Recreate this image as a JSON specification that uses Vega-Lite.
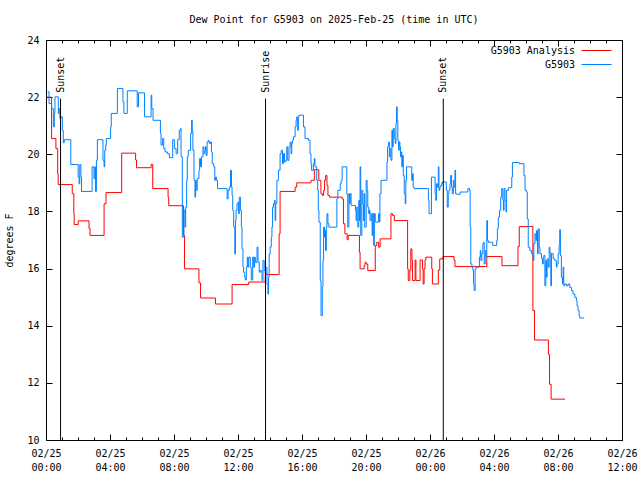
{
  "$schema": "https://vega.github.io/schema/vega-lite/v6.json",
  "width": 576,
  "height": 400,
  "autosize": {"type": "none"},
  "padding": {"left": 46, "top": 40, "right": 18, "bottom": 40},
  "title": {"text": "Dew Point for G5903 on 2025-Feb-25 (time in UTC)", "font": "DejaVu Sans Mono", "fontSize": 10, "fontWeight": "normal", "color": "black", "offset": 10},
  "config": {
    "font": "DejaVu Sans Mono",
    "view": {"stroke": "black", "strokeWidth": 1},
    "axis": {"grid": false, "domain": false, "labelFont": "DejaVu Sans Mono", "labelFontSize": 10, "labelColor": "black", "tickColor": "black", "tickWidth": 1, "titleFont": "DejaVu Sans Mono", "titleFontSize": 10, "titleFontWeight": "normal", "titleColor": "black"},
    "legend": {"orient": "none", "legendX": 545, "legendY": 5, "labelFont": "DejaVu Sans Mono", "labelFontSize": 10, "labelColor": "black", "symbolType": "M-3,0H3", "symbolSize": 100, "symbolStrokeWidth": 1, "labelAlign": "right", "labelOffset": -27, "rowPadding": 3, "padding": 0}
  },
  "datasets": {
    "sun": [
      {"hour": 0.91, "event": "Sunset"},
      {"hour": 13.72, "event": "Sunrise"},
      {"hour": 24.83, "event": "Sunset"}
    ],
    "dew": [
      {"hour":0.05,"dewpoint":22.0,"series":"G5903 Analysis"},
      {"hour":0.35,"dewpoint":20.55,"series":"G5903 Analysis"},
      {"hour":0.62,"dewpoint":20.2,"series":"G5903 Analysis"},
      {"hour":0.73,"dewpoint":19.32,"series":"G5903 Analysis"},
      {"hour":0.76,"dewpoint":18.94,"series":"G5903 Analysis"},
      {"hour":1.64,"dewpoint":18.62,"series":"G5903 Analysis"},
      {"hour":1.74,"dewpoint":17.92,"series":"G5903 Analysis"},
      {"hour":1.76,"dewpoint":17.54,"series":"G5903 Analysis"},
      {"hour":2.01,"dewpoint":17.67,"series":"G5903 Analysis"},
      {"hour":2.69,"dewpoint":17.4,"series":"G5903 Analysis"},
      {"hour":2.75,"dewpoint":17.16,"series":"G5903 Analysis"},
      {"hour":3.63,"dewpoint":18.27,"series":"G5903 Analysis"},
      {"hour":3.75,"dewpoint":18.66,"series":"G5903 Analysis"},
      {"hour":4.73,"dewpoint":20.04,"series":"G5903 Analysis"},
      {"hour":5.6,"dewpoint":19.8,"series":"G5903 Analysis"},
      {"hour":5.66,"dewpoint":19.53,"series":"G5903 Analysis"},
      {"hour":6.57,"dewpoint":19.65,"series":"G5903 Analysis"},
      {"hour":6.67,"dewpoint":18.8,"series":"G5903 Analysis"},
      {"hour":7.63,"dewpoint":18.5,"series":"G5903 Analysis"},
      {"hour":7.67,"dewpoint":18.2,"series":"G5903 Analysis"},
      {"hour":8.6,"dewpoint":17.16,"series":"G5903 Analysis"},
      {"hour":8.66,"dewpoint":15.99,"series":"G5903 Analysis"},
      {"hour":9.56,"dewpoint":15.5,"series":"G5903 Analysis"},
      {"hour":9.66,"dewpoint":14.97,"series":"G5903 Analysis"},
      {"hour":10.59,"dewpoint":14.76,"series":"G5903 Analysis"},
      {"hour":11.63,"dewpoint":15.44,"series":"G5903 Analysis"},
      {"hour":12.67,"dewpoint":15.53,"series":"G5903 Analysis"},
      {"hour":13.7,"dewpoint":15.79,"series":"G5903 Analysis"},
      {"hour":14.57,"dewpoint":17.22,"series":"G5903 Analysis"},
      {"hour":14.63,"dewpoint":18.7,"series":"G5903 Analysis"},
      {"hour":15.57,"dewpoint":18.85,"series":"G5903 Analysis"},
      {"hour":15.67,"dewpoint":19.0,"series":"G5903 Analysis"},
      {"hour":16.56,"dewpoint":19.09,"series":"G5903 Analysis"},
      {"hour":16.77,"dewpoint":19.46,"series":"G5903 Analysis"},
      {"hour":17.05,"dewpoint":19.09,"series":"G5903 Analysis"},
      {"hour":17.18,"dewpoint":18.62,"series":"G5903 Analysis"},
      {"hour":17.27,"dewpoint":18.56,"series":"G5903 Analysis"},
      {"hour":17.35,"dewpoint":18.74,"series":"G5903 Analysis"},
      {"hour":17.41,"dewpoint":19.09,"series":"G5903 Analysis"},
      {"hour":17.48,"dewpoint":19.26,"series":"G5903 Analysis"},
      {"hour":17.56,"dewpoint":18.91,"series":"G5903 Analysis"},
      {"hour":17.62,"dewpoint":18.56,"series":"G5903 Analysis"},
      {"hour":17.72,"dewpoint":18.5,"series":"G5903 Analysis"},
      {"hour":18.51,"dewpoint":18.44,"series":"G5903 Analysis"},
      {"hour":18.59,"dewpoint":17.57,"series":"G5903 Analysis"},
      {"hour":18.68,"dewpoint":17.22,"series":"G5903 Analysis"},
      {"hour":18.82,"dewpoint":17.01,"series":"G5903 Analysis"},
      {"hour":18.89,"dewpoint":17.16,"series":"G5903 Analysis"},
      {"hour":19.59,"dewpoint":16.57,"series":"G5903 Analysis"},
      {"hour":19.63,"dewpoint":15.99,"series":"G5903 Analysis"},
      {"hour":19.88,"dewpoint":16.1,"series":"G5903 Analysis"},
      {"hour":19.94,"dewpoint":16.22,"series":"G5903 Analysis"},
      {"hour":20.01,"dewpoint":16.16,"series":"G5903 Analysis"},
      {"hour":20.11,"dewpoint":15.93,"series":"G5903 Analysis"},
      {"hour":20.58,"dewpoint":16.81,"series":"G5903 Analysis"},
      {"hour":20.67,"dewpoint":16.92,"series":"G5903 Analysis"},
      {"hour":20.79,"dewpoint":16.75,"series":"G5903 Analysis"},
      {"hour":20.88,"dewpoint":17.04,"series":"G5903 Analysis"},
      {"hour":21.56,"dewpoint":17.92,"series":"G5903 Analysis"},
      {"hour":21.66,"dewpoint":17.86,"series":"G5903 Analysis"},
      {"hour":21.77,"dewpoint":17.68,"series":"G5903 Analysis"},
      {"hour":22.6,"dewpoint":15.99,"series":"G5903 Analysis"},
      {"hour":22.64,"dewpoint":15.58,"series":"G5903 Analysis"},
      {"hour":22.74,"dewpoint":15.95,"series":"G5903 Analysis"},
      {"hour":22.8,"dewpoint":16.69,"series":"G5903 Analysis"},
      {"hour":22.87,"dewpoint":16.3,"series":"G5903 Analysis"},
      {"hour":22.9,"dewpoint":15.58,"series":"G5903 Analysis"},
      {"hour":23.07,"dewpoint":16.3,"series":"G5903 Analysis"},
      {"hour":23.12,"dewpoint":15.58,"series":"G5903 Analysis"},
      {"hour":23.38,"dewpoint":16.3,"series":"G5903 Analysis"},
      {"hour":23.53,"dewpoint":15.99,"series":"G5903 Analysis"},
      {"hour":23.57,"dewpoint":15.46,"series":"G5903 Analysis"},
      {"hour":23.63,"dewpoint":15.99,"series":"G5903 Analysis"},
      {"hour":23.69,"dewpoint":16.3,"series":"G5903 Analysis"},
      {"hour":23.74,"dewpoint":16.4,"series":"G5903 Analysis"},
      {"hour":24.11,"dewpoint":15.99,"series":"G5903 Analysis"},
      {"hour":24.15,"dewpoint":15.46,"series":"G5903 Analysis"},
      {"hour":24.52,"dewpoint":15.95,"series":"G5903 Analysis"},
      {"hour":24.61,"dewpoint":16.34,"series":"G5903 Analysis"},
      {"hour":24.81,"dewpoint":16.42,"series":"G5903 Analysis"},
      {"hour":25.5,"dewpoint":16.3,"series":"G5903 Analysis"},
      {"hour":25.56,"dewpoint":16.07,"series":"G5903 Analysis"},
      {"hour":27.55,"dewpoint":16.42,"series":"G5903 Analysis"},
      {"hour":28.5,"dewpoint":16.1,"series":"G5903 Analysis"},
      {"hour":29.5,"dewpoint":16.77,"series":"G5903 Analysis"},
      {"hour":29.58,"dewpoint":17.47,"series":"G5903 Analysis"},
      {"hour":30.43,"dewpoint":14.53,"series":"G5903 Analysis"},
      {"hour":30.53,"dewpoint":13.5,"series":"G5903 Analysis"},
      {"hour":31.4,"dewpoint":13.0,"series":"G5903 Analysis"},
      {"hour":31.47,"dewpoint":11.95,"series":"G5903 Analysis"},
      {"hour":31.57,"dewpoint":11.43,"series":"G5903 Analysis"},
      {"hour":32.44,"dewpoint":11.43,"series":"G5903 Analysis"},
      {"hour":0.1,"dewpoint":22.19,"series":"G5903"},
      {"hour":0.19,"dewpoint":21.78,"series":"G5903"},
      {"hour":0.35,"dewpoint":21.6,"series":"G5903"},
      {"hour":0.46,"dewpoint":20.96,"series":"G5903"},
      {"hour":0.52,"dewpoint":21.43,"series":"G5903"},
      {"hour":0.56,"dewpoint":22.01,"series":"G5903"},
      {"hour":0.77,"dewpoint":21.43,"series":"G5903"},
      {"hour":0.81,"dewpoint":21.6,"series":"G5903"},
      {"hour":0.87,"dewpoint":21.25,"series":"G5903"},
      {"hour":0.93,"dewpoint":21.31,"series":"G5903"},
      {"hour":1.02,"dewpoint":20.84,"series":"G5903"},
      {"hour":1.08,"dewpoint":20.4,"series":"G5903"},
      {"hour":1.14,"dewpoint":20.51,"series":"G5903"},
      {"hour":1.55,"dewpoint":19.64,"series":"G5903"},
      {"hour":2.01,"dewpoint":19.2,"series":"G5903"},
      {"hour":2.07,"dewpoint":18.97,"series":"G5903"},
      {"hour":2.11,"dewpoint":19.64,"series":"G5903"},
      {"hour":2.18,"dewpoint":19.2,"series":"G5903"},
      {"hour":2.22,"dewpoint":18.7,"series":"G5903"},
      {"hour":2.88,"dewpoint":19.56,"series":"G5903"},
      {"hour":3.0,"dewpoint":19.15,"series":"G5903"},
      {"hour":3.05,"dewpoint":19.56,"series":"G5903"},
      {"hour":3.09,"dewpoint":18.7,"series":"G5903"},
      {"hour":3.15,"dewpoint":19.79,"series":"G5903"},
      {"hour":3.21,"dewpoint":20.51,"series":"G5903"},
      {"hour":3.56,"dewpoint":19.79,"series":"G5903"},
      {"hour":3.63,"dewpoint":19.56,"series":"G5903"},
      {"hour":3.67,"dewpoint":20.14,"series":"G5903"},
      {"hour":3.73,"dewpoint":20.32,"series":"G5903"},
      {"hour":3.77,"dewpoint":20.55,"series":"G5903"},
      {"hour":4.04,"dewpoint":20.96,"series":"G5903"},
      {"hour":4.08,"dewpoint":21.43,"series":"G5903"},
      {"hour":4.46,"dewpoint":22.3,"series":"G5903"},
      {"hour":4.81,"dewpoint":21.84,"series":"G5903"},
      {"hour":4.87,"dewpoint":21.43,"series":"G5903"},
      {"hour":5.08,"dewpoint":22.22,"series":"G5903"},
      {"hour":5.7,"dewpoint":21.66,"series":"G5903"},
      {"hour":5.78,"dewpoint":22.15,"series":"G5903"},
      {"hour":6.16,"dewpoint":21.31,"series":"G5903"},
      {"hour":6.57,"dewpoint":22.07,"series":"G5903"},
      {"hour":6.61,"dewpoint":21.6,"series":"G5903"},
      {"hour":6.69,"dewpoint":21.19,"series":"G5903"},
      {"hour":7.15,"dewpoint":20.73,"series":"G5903"},
      {"hour":7.19,"dewpoint":20.32,"series":"G5903"},
      {"hour":7.29,"dewpoint":20.55,"series":"G5903"},
      {"hour":7.36,"dewpoint":20.2,"series":"G5903"},
      {"hour":7.44,"dewpoint":20.08,"series":"G5903"},
      {"hour":7.6,"dewpoint":20.02,"series":"G5903"},
      {"hour":7.71,"dewpoint":19.88,"series":"G5903"},
      {"hour":7.92,"dewpoint":20.51,"series":"G5903"},
      {"hour":8.02,"dewpoint":20.2,"series":"G5903"},
      {"hour":8.13,"dewpoint":20.02,"series":"G5903"},
      {"hour":8.23,"dewpoint":20.51,"series":"G5903"},
      {"hour":8.33,"dewpoint":20.84,"series":"G5903"},
      {"hour":8.4,"dewpoint":20.9,"series":"G5903"},
      {"hour":8.44,"dewpoint":19.91,"series":"G5903"},
      {"hour":8.52,"dewpoint":17.1,"series":"G5903"},
      {"hour":8.62,"dewpoint":18.04,"series":"G5903"},
      {"hour":8.69,"dewpoint":17.45,"series":"G5903"},
      {"hour":8.73,"dewpoint":18.15,"series":"G5903"},
      {"hour":8.79,"dewpoint":19.09,"series":"G5903"},
      {"hour":8.83,"dewpoint":19.91,"series":"G5903"},
      {"hour":8.89,"dewpoint":20.14,"series":"G5903"},
      {"hour":9.04,"dewpoint":20.73,"series":"G5903"},
      {"hour":9.1,"dewpoint":21.19,"series":"G5903"},
      {"hour":9.14,"dewpoint":20.84,"series":"G5903"},
      {"hour":9.18,"dewpoint":20.14,"series":"G5903"},
      {"hour":9.25,"dewpoint":19.09,"series":"G5903"},
      {"hour":9.31,"dewpoint":18.5,"series":"G5903"},
      {"hour":9.35,"dewpoint":19.09,"series":"G5903"},
      {"hour":9.39,"dewpoint":18.74,"series":"G5903"},
      {"hour":9.45,"dewpoint":19.15,"series":"G5903"},
      {"hour":9.56,"dewpoint":19.44,"series":"G5903"},
      {"hour":9.6,"dewpoint":19.85,"series":"G5903"},
      {"hour":9.66,"dewpoint":19.56,"series":"G5903"},
      {"hour":9.72,"dewpoint":19.91,"series":"G5903"},
      {"hour":9.81,"dewpoint":20.26,"series":"G5903"},
      {"hour":9.87,"dewpoint":20.02,"series":"G5903"},
      {"hour":9.93,"dewpoint":20.14,"series":"G5903"},
      {"hour":9.97,"dewpoint":20.26,"series":"G5903"},
      {"hour":10.01,"dewpoint":19.96,"series":"G5903"},
      {"hour":10.07,"dewpoint":20.43,"series":"G5903"},
      {"hour":10.14,"dewpoint":20.49,"series":"G5903"},
      {"hour":10.18,"dewpoint":20.43,"series":"G5903"},
      {"hour":10.22,"dewpoint":20.38,"series":"G5903"},
      {"hour":10.28,"dewpoint":20.43,"series":"G5903"},
      {"hour":10.34,"dewpoint":20.08,"series":"G5903"},
      {"hour":10.39,"dewpoint":19.67,"series":"G5903"},
      {"hour":10.49,"dewpoint":19.56,"series":"G5903"},
      {"hour":10.55,"dewpoint":19.09,"series":"G5903"},
      {"hour":10.59,"dewpoint":19.2,"series":"G5903"},
      {"hour":10.66,"dewpoint":19.09,"series":"G5903"},
      {"hour":10.72,"dewpoint":18.8,"series":"G5903"},
      {"hour":11.32,"dewpoint":18.44,"series":"G5903"},
      {"hour":11.38,"dewpoint":18.74,"series":"G5903"},
      {"hour":11.46,"dewpoint":18.85,"series":"G5903"},
      {"hour":11.53,"dewpoint":19.44,"series":"G5903"},
      {"hour":11.59,"dewpoint":18.85,"series":"G5903"},
      {"hour":11.63,"dewpoint":18.56,"series":"G5903"},
      {"hour":11.67,"dewpoint":18.04,"series":"G5903"},
      {"hour":11.73,"dewpoint":17.45,"series":"G5903"},
      {"hour":11.8,"dewpoint":16.51,"series":"G5903"},
      {"hour":11.84,"dewpoint":17.68,"series":"G5903"},
      {"hour":11.88,"dewpoint":18.04,"series":"G5903"},
      {"hour":11.94,"dewpoint":18.27,"series":"G5903"},
      {"hour":12.0,"dewpoint":18.33,"series":"G5903"},
      {"hour":12.04,"dewpoint":17.92,"series":"G5903"},
      {"hour":12.08,"dewpoint":18.5,"series":"G5903"},
      {"hour":12.15,"dewpoint":18.04,"series":"G5903"},
      {"hour":12.21,"dewpoint":17.45,"series":"G5903"},
      {"hour":12.25,"dewpoint":16.69,"series":"G5903"},
      {"hour":12.31,"dewpoint":16.05,"series":"G5903"},
      {"hour":12.35,"dewpoint":15.87,"series":"G5903"},
      {"hour":12.42,"dewpoint":15.7,"series":"G5903"},
      {"hour":12.46,"dewpoint":15.6,"series":"G5903"},
      {"hour":12.52,"dewpoint":16.05,"series":"G5903"},
      {"hour":12.58,"dewpoint":16.4,"series":"G5903"},
      {"hour":12.62,"dewpoint":16.05,"series":"G5903"},
      {"hour":12.67,"dewpoint":16.4,"series":"G5903"},
      {"hour":12.77,"dewpoint":16.05,"series":"G5903"},
      {"hour":12.83,"dewpoint":15.6,"series":"G5903"},
      {"hour":12.92,"dewpoint":16.4,"series":"G5903"},
      {"hour":12.98,"dewpoint":16.05,"series":"G5903"},
      {"hour":13.04,"dewpoint":16.4,"series":"G5903"},
      {"hour":13.08,"dewpoint":16.22,"series":"G5903"},
      {"hour":13.19,"dewpoint":16.75,"series":"G5903"},
      {"hour":13.25,"dewpoint":16.22,"series":"G5903"},
      {"hour":13.33,"dewpoint":15.87,"series":"G5903"},
      {"hour":13.39,"dewpoint":15.93,"series":"G5903"},
      {"hour":13.5,"dewpoint":15.58,"series":"G5903"},
      {"hour":13.56,"dewpoint":16.28,"series":"G5903"},
      {"hour":13.64,"dewpoint":15.93,"series":"G5903"},
      {"hour":13.7,"dewpoint":15.81,"series":"G5903"},
      {"hour":13.74,"dewpoint":16.05,"series":"G5903"},
      {"hour":13.81,"dewpoint":15.46,"series":"G5903"},
      {"hour":13.87,"dewpoint":15.11,"series":"G5903"},
      {"hour":13.91,"dewpoint":15.7,"series":"G5903"},
      {"hour":13.95,"dewpoint":16.51,"series":"G5903"},
      {"hour":14.01,"dewpoint":16.75,"series":"G5903"},
      {"hour":14.08,"dewpoint":17.1,"series":"G5903"},
      {"hour":14.12,"dewpoint":17.45,"series":"G5903"},
      {"hour":14.16,"dewpoint":18.15,"series":"G5903"},
      {"hour":14.22,"dewpoint":18.27,"series":"G5903"},
      {"hour":14.28,"dewpoint":18.39,"series":"G5903"},
      {"hour":14.32,"dewpoint":17.68,"series":"G5903"},
      {"hour":14.36,"dewpoint":18.27,"series":"G5903"},
      {"hour":14.43,"dewpoint":19.09,"series":"G5903"},
      {"hour":14.53,"dewpoint":19.44,"series":"G5903"},
      {"hour":14.63,"dewpoint":20.02,"series":"G5903"},
      {"hour":14.7,"dewpoint":20.14,"series":"G5903"},
      {"hour":14.78,"dewpoint":19.67,"series":"G5903"},
      {"hour":14.84,"dewpoint":20.02,"series":"G5903"},
      {"hour":14.91,"dewpoint":19.73,"series":"G5903"},
      {"hour":14.99,"dewpoint":19.79,"series":"G5903"},
      {"hour":15.05,"dewpoint":20.26,"series":"G5903"},
      {"hour":15.11,"dewpoint":19.79,"series":"G5903"},
      {"hour":15.19,"dewpoint":20.26,"series":"G5903"},
      {"hour":15.26,"dewpoint":20.43,"series":"G5903"},
      {"hour":15.32,"dewpoint":20.02,"series":"G5903"},
      {"hour":15.36,"dewpoint":20.38,"series":"G5903"},
      {"hour":15.4,"dewpoint":20.49,"series":"G5903"},
      {"hour":15.46,"dewpoint":20.61,"series":"G5903"},
      {"hour":15.57,"dewpoint":20.96,"series":"G5903"},
      {"hour":15.63,"dewpoint":21.19,"series":"G5903"},
      {"hour":15.67,"dewpoint":21.31,"series":"G5903"},
      {"hour":15.73,"dewpoint":20.84,"series":"G5903"},
      {"hour":15.77,"dewpoint":21.31,"series":"G5903"},
      {"hour":15.81,"dewpoint":21.37,"series":"G5903"},
      {"hour":16.09,"dewpoint":20.96,"series":"G5903"},
      {"hour":16.19,"dewpoint":20.55,"series":"G5903"},
      {"hour":16.4,"dewpoint":20.49,"series":"G5903"},
      {"hour":16.5,"dewpoint":20.02,"series":"G5903"},
      {"hour":16.56,"dewpoint":19.67,"series":"G5903"},
      {"hour":16.6,"dewpoint":19.44,"series":"G5903"},
      {"hour":16.71,"dewpoint":19.67,"series":"G5903"},
      {"hour":16.77,"dewpoint":19.85,"series":"G5903"},
      {"hour":16.81,"dewpoint":19.56,"series":"G5903"},
      {"hour":16.92,"dewpoint":19.09,"series":"G5903"},
      {"hour":16.98,"dewpoint":18.74,"series":"G5903"},
      {"hour":17.02,"dewpoint":18.04,"series":"G5903"},
      {"hour":17.06,"dewpoint":17.62,"series":"G5903"},
      {"hour":17.14,"dewpoint":15.58,"series":"G5903"},
      {"hour":17.19,"dewpoint":14.35,"series":"G5903"},
      {"hour":17.27,"dewpoint":15.35,"series":"G5903"},
      {"hour":17.31,"dewpoint":16.29,"series":"G5903"},
      {"hour":17.35,"dewpoint":17.45,"series":"G5903"},
      {"hour":17.41,"dewpoint":17.1,"series":"G5903"},
      {"hour":17.45,"dewpoint":17.33,"series":"G5903"},
      {"hour":17.47,"dewpoint":16.63,"series":"G5903"},
      {"hour":17.52,"dewpoint":17.45,"series":"G5903"},
      {"hour":17.56,"dewpoint":17.92,"series":"G5903"},
      {"hour":17.62,"dewpoint":17.57,"series":"G5903"},
      {"hour":17.68,"dewpoint":17.45,"series":"G5903"},
      {"hour":18.18,"dewpoint":18.44,"series":"G5903"},
      {"hour":18.24,"dewpoint":18.74,"series":"G5903"},
      {"hour":18.39,"dewpoint":18.97,"series":"G5903"},
      {"hour":18.45,"dewpoint":19.09,"series":"G5903"},
      {"hour":18.51,"dewpoint":19.56,"series":"G5903"},
      {"hour":18.8,"dewpoint":18.62,"series":"G5903"},
      {"hour":18.86,"dewpoint":17.45,"series":"G5903"},
      {"hour":18.93,"dewpoint":18.62,"series":"G5903"},
      {"hour":18.97,"dewpoint":18.27,"series":"G5903"},
      {"hour":19.01,"dewpoint":18.62,"series":"G5903"},
      {"hour":19.07,"dewpoint":18.21,"series":"G5903"},
      {"hour":19.34,"dewpoint":18.04,"series":"G5903"},
      {"hour":19.38,"dewpoint":17.68,"series":"G5903"},
      {"hour":19.42,"dewpoint":18.15,"series":"G5903"},
      {"hour":19.49,"dewpoint":17.45,"series":"G5903"},
      {"hour":19.55,"dewpoint":18.39,"series":"G5903"},
      {"hour":19.59,"dewpoint":17.68,"series":"G5903"},
      {"hour":19.63,"dewpoint":19.56,"series":"G5903"},
      {"hour":19.67,"dewpoint":17.16,"series":"G5903"},
      {"hour":19.74,"dewpoint":18.74,"series":"G5903"},
      {"hour":19.8,"dewpoint":18.27,"series":"G5903"},
      {"hour":19.84,"dewpoint":17.68,"series":"G5903"},
      {"hour":19.88,"dewpoint":18.62,"series":"G5903"},
      {"hour":19.92,"dewpoint":17.45,"series":"G5903"},
      {"hour":20.01,"dewpoint":19.09,"series":"G5903"},
      {"hour":20.07,"dewpoint":18.74,"series":"G5903"},
      {"hour":20.11,"dewpoint":18.15,"series":"G5903"},
      {"hour":20.17,"dewpoint":17.92,"series":"G5903"},
      {"hour":20.21,"dewpoint":18.04,"series":"G5903"},
      {"hour":20.25,"dewpoint":17.68,"series":"G5903"},
      {"hour":20.32,"dewpoint":17.92,"series":"G5903"},
      {"hour":20.38,"dewpoint":17.16,"series":"G5903"},
      {"hour":20.42,"dewpoint":17.92,"series":"G5903"},
      {"hour":20.48,"dewpoint":16.81,"series":"G5903"},
      {"hour":20.52,"dewpoint":17.92,"series":"G5903"},
      {"hour":20.58,"dewpoint":17.63,"series":"G5903"},
      {"hour":20.79,"dewpoint":17.92,"series":"G5903"},
      {"hour":20.83,"dewpoint":17.63,"series":"G5903"},
      {"hour":20.87,"dewpoint":18.62,"series":"G5903"},
      {"hour":20.94,"dewpoint":19.09,"series":"G5903"},
      {"hour":21.31,"dewpoint":19.73,"series":"G5903"},
      {"hour":21.35,"dewpoint":20.26,"series":"G5903"},
      {"hour":21.42,"dewpoint":20.43,"series":"G5903"},
      {"hour":21.46,"dewpoint":19.91,"series":"G5903"},
      {"hour":21.5,"dewpoint":20.2,"series":"G5903"},
      {"hour":21.56,"dewpoint":19.79,"series":"G5903"},
      {"hour":21.62,"dewpoint":20.84,"series":"G5903"},
      {"hour":21.66,"dewpoint":20.26,"series":"G5903"},
      {"hour":21.7,"dewpoint":20.9,"series":"G5903"},
      {"hour":21.77,"dewpoint":20.55,"series":"G5903"},
      {"hour":21.83,"dewpoint":20.38,"series":"G5903"},
      {"hour":21.87,"dewpoint":21.08,"series":"G5903"},
      {"hour":21.91,"dewpoint":21.66,"series":"G5903"},
      {"hour":21.95,"dewpoint":21.19,"series":"G5903"},
      {"hour":21.99,"dewpoint":20.49,"series":"G5903"},
      {"hour":22.04,"dewpoint":20.14,"series":"G5903"},
      {"hour":22.08,"dewpoint":20.43,"series":"G5903"},
      {"hour":22.12,"dewpoint":20.26,"series":"G5903"},
      {"hour":22.16,"dewpoint":19.91,"series":"G5903"},
      {"hour":22.2,"dewpoint":20.08,"series":"G5903"},
      {"hour":22.24,"dewpoint":19.56,"series":"G5903"},
      {"hour":22.28,"dewpoint":19.96,"series":"G5903"},
      {"hour":22.33,"dewpoint":19.26,"series":"G5903"},
      {"hour":22.39,"dewpoint":18.62,"series":"G5903"},
      {"hour":22.45,"dewpoint":18.27,"series":"G5903"},
      {"hour":22.49,"dewpoint":19.09,"series":"G5903"},
      {"hour":22.53,"dewpoint":19.56,"series":"G5903"},
      {"hour":22.86,"dewpoint":19.09,"series":"G5903"},
      {"hour":22.91,"dewpoint":19.32,"series":"G5903"},
      {"hour":22.95,"dewpoint":18.85,"series":"G5903"},
      {"hour":23.01,"dewpoint":18.8,"series":"G5903"},
      {"hour":23.9,"dewpoint":18.39,"series":"G5903"},
      {"hour":23.94,"dewpoint":17.92,"series":"G5903"},
      {"hour":24.09,"dewpoint":19.2,"series":"G5903"},
      {"hour":24.32,"dewpoint":18.62,"series":"G5903"},
      {"hour":24.36,"dewpoint":18.39,"series":"G5903"},
      {"hour":24.4,"dewpoint":18.97,"series":"G5903"},
      {"hour":24.46,"dewpoint":18.85,"series":"G5903"},
      {"hour":24.52,"dewpoint":19.56,"series":"G5903"},
      {"hour":24.56,"dewpoint":18.74,"series":"G5903"},
      {"hour":24.61,"dewpoint":18.85,"series":"G5903"},
      {"hour":24.67,"dewpoint":18.91,"series":"G5903"},
      {"hour":24.73,"dewpoint":18.97,"series":"G5903"},
      {"hour":24.77,"dewpoint":19.03,"series":"G5903"},
      {"hour":25.02,"dewpoint":18.74,"series":"G5903"},
      {"hour":25.08,"dewpoint":18.15,"series":"G5903"},
      {"hour":25.14,"dewpoint":18.62,"series":"G5903"},
      {"hour":25.18,"dewpoint":18.74,"series":"G5903"},
      {"hour":25.25,"dewpoint":18.97,"series":"G5903"},
      {"hour":25.29,"dewpoint":19.26,"series":"G5903"},
      {"hour":25.35,"dewpoint":18.85,"series":"G5903"},
      {"hour":25.39,"dewpoint":18.62,"series":"G5903"},
      {"hour":25.46,"dewpoint":19.09,"series":"G5903"},
      {"hour":25.5,"dewpoint":18.85,"series":"G5903"},
      {"hour":25.56,"dewpoint":19.44,"series":"G5903"},
      {"hour":25.6,"dewpoint":18.62,"series":"G5903"},
      {"hour":25.68,"dewpoint":18.6,"series":"G5903"},
      {"hour":25.89,"dewpoint":18.68,"series":"G5903"},
      {"hour":26.37,"dewpoint":18.8,"series":"G5903"},
      {"hour":26.47,"dewpoint":18.74,"series":"G5903"},
      {"hour":26.51,"dewpoint":17.45,"series":"G5903"},
      {"hour":26.55,"dewpoint":16.16,"series":"G5903"},
      {"hour":26.62,"dewpoint":16.05,"series":"G5903"},
      {"hour":26.68,"dewpoint":15.93,"series":"G5903"},
      {"hour":26.72,"dewpoint":15.46,"series":"G5903"},
      {"hour":26.76,"dewpoint":15.23,"series":"G5903"},
      {"hour":26.82,"dewpoint":15.99,"series":"G5903"},
      {"hour":26.89,"dewpoint":16.05,"series":"G5903"},
      {"hour":27.09,"dewpoint":16.4,"series":"G5903"},
      {"hour":27.14,"dewpoint":16.63,"series":"G5903"},
      {"hour":27.18,"dewpoint":16.28,"series":"G5903"},
      {"hour":27.24,"dewpoint":16.52,"series":"G5903"},
      {"hour":27.3,"dewpoint":16.87,"series":"G5903"},
      {"hour":27.34,"dewpoint":16.92,"series":"G5903"},
      {"hour":27.39,"dewpoint":16.16,"series":"G5903"},
      {"hour":27.45,"dewpoint":16.63,"series":"G5903"},
      {"hour":27.51,"dewpoint":16.4,"series":"G5903"},
      {"hour":27.55,"dewpoint":17.68,"series":"G5903"},
      {"hour":27.59,"dewpoint":16.98,"series":"G5903"},
      {"hour":27.65,"dewpoint":16.92,"series":"G5903"},
      {"hour":27.92,"dewpoint":16.81,"series":"G5903"},
      {"hour":28.17,"dewpoint":16.98,"series":"G5903"},
      {"hour":28.21,"dewpoint":17.39,"series":"G5903"},
      {"hour":28.27,"dewpoint":17.8,"series":"G5903"},
      {"hour":28.34,"dewpoint":18.04,"series":"G5903"},
      {"hour":28.42,"dewpoint":18.5,"series":"G5903"},
      {"hour":28.48,"dewpoint":18.8,"series":"G5903"},
      {"hour":28.55,"dewpoint":18.39,"series":"G5903"},
      {"hour":28.59,"dewpoint":18.04,"series":"G5903"},
      {"hour":28.63,"dewpoint":18.8,"series":"G5903"},
      {"hour":28.69,"dewpoint":18.39,"series":"G5903"},
      {"hour":28.75,"dewpoint":17.98,"series":"G5903"},
      {"hour":28.79,"dewpoint":18.74,"series":"G5903"},
      {"hour":28.9,"dewpoint":18.83,"series":"G5903"},
      {"hour":29.11,"dewpoint":19.2,"series":"G5903"},
      {"hour":29.15,"dewpoint":19.71,"series":"G5903"},
      {"hour":29.58,"dewpoint":19.67,"series":"G5903"},
      {"hour":29.87,"dewpoint":19.26,"series":"G5903"},
      {"hour":29.94,"dewpoint":18.74,"series":"G5903"},
      {"hour":30.04,"dewpoint":18.68,"series":"G5903"},
      {"hour":30.08,"dewpoint":17.74,"series":"G5903"},
      {"hour":30.14,"dewpoint":16.75,"series":"G5903"},
      {"hour":30.24,"dewpoint":16.63,"series":"G5903"},
      {"hour":30.35,"dewpoint":16.52,"series":"G5903"},
      {"hour":30.41,"dewpoint":16.46,"series":"G5903"},
      {"hour":30.45,"dewpoint":16.28,"series":"G5903"},
      {"hour":30.49,"dewpoint":16.87,"series":"G5903"},
      {"hour":30.56,"dewpoint":17.22,"series":"G5903"},
      {"hour":30.62,"dewpoint":16.98,"series":"G5903"},
      {"hour":30.66,"dewpoint":17.33,"series":"G5903"},
      {"hour":30.72,"dewpoint":16.52,"series":"G5903"},
      {"hour":30.76,"dewpoint":17.39,"series":"G5903"},
      {"hour":30.83,"dewpoint":16.75,"series":"G5903"},
      {"hour":30.87,"dewpoint":16.52,"series":"G5903"},
      {"hour":30.97,"dewpoint":16.34,"series":"G5903"},
      {"hour":31.03,"dewpoint":16.16,"series":"G5903"},
      {"hour":31.08,"dewpoint":16.4,"series":"G5903"},
      {"hour":31.12,"dewpoint":16.46,"series":"G5903"},
      {"hour":31.18,"dewpoint":15.4,"series":"G5903"},
      {"hour":31.24,"dewpoint":16.28,"series":"G5903"},
      {"hour":31.28,"dewpoint":15.7,"series":"G5903"},
      {"hour":31.32,"dewpoint":16.34,"series":"G5903"},
      {"hour":31.39,"dewpoint":16.05,"series":"G5903"},
      {"hour":31.45,"dewpoint":16.75,"series":"G5903"},
      {"hour":31.49,"dewpoint":16.57,"series":"G5903"},
      {"hour":31.55,"dewpoint":15.4,"series":"G5903"},
      {"hour":31.59,"dewpoint":16.52,"series":"G5903"},
      {"hour":31.7,"dewpoint":16.34,"series":"G5903"},
      {"hour":31.8,"dewpoint":16.28,"series":"G5903"},
      {"hour":31.9,"dewpoint":16.05,"series":"G5903"},
      {"hour":31.94,"dewpoint":16.16,"series":"G5903"},
      {"hour":32.01,"dewpoint":16.52,"series":"G5903"},
      {"hour":32.07,"dewpoint":16.81,"series":"G5903"},
      {"hour":32.11,"dewpoint":17.36,"series":"G5903"},
      {"hour":32.15,"dewpoint":16.46,"series":"G5903"},
      {"hour":32.21,"dewpoint":15.7,"series":"G5903"},
      {"hour":32.28,"dewpoint":15.46,"series":"G5903"},
      {"hour":32.32,"dewpoint":16.05,"series":"G5903"},
      {"hour":32.36,"dewpoint":15.4,"series":"G5903"},
      {"hour":32.42,"dewpoint":15.46,"series":"G5903"},
      {"hour":32.53,"dewpoint":15.4,"series":"G5903"},
      {"hour":32.63,"dewpoint":15.46,"series":"G5903"},
      {"hour":32.73,"dewpoint":15.34,"series":"G5903"},
      {"hour":32.84,"dewpoint":15.23,"series":"G5903"},
      {"hour":32.94,"dewpoint":15.11,"series":"G5903"},
      {"hour":33.05,"dewpoint":14.99,"series":"G5903"},
      {"hour":33.15,"dewpoint":14.88,"series":"G5903"},
      {"hour":33.19,"dewpoint":14.7,"series":"G5903"},
      {"hour":33.25,"dewpoint":14.53,"series":"G5903"},
      {"hour":33.32,"dewpoint":14.35,"series":"G5903"},
      {"hour":33.36,"dewpoint":14.27,"series":"G5903"},
      {"hour":33.63,"dewpoint":14.27,"series":"G5903"}
    ]
  },
  "resolve": {"axis": {"x": "independent", "y": "independent"}},
  "layer": [
    {
      "data": {"name": "dew"},
      "transform": [{"filter": "datum.series === 'G5903 Analysis'"}],
      "mark": {"type": "line", "interpolate": "step-after", "strokeWidth": 1},
      "encoding": {
        "x": {"field": "hour", "type": "quantitative", "scale": {"domain": [0, 36], "nice": false, "zero": false},
              "axis": {"orient": "bottom", "values": [0, 4, 8, 12, 16, 20, 24, 28, 32, 36], "tickSize": -6, "labelPadding": 14, "labelBaseline": "top", "labelLineHeight": 14, "labelFlush": false, "labelOverlap": false, "title": null,
                       "labelExpr": "[utcFormat(utc(2025,1,25) + datum.value*3600000, '%m/%d'), utcFormat(utc(2025,1,25) + datum.value*3600000, '%H:%M')]"}},
        "y": {"field": "dewpoint", "type": "quantitative", "scale": {"domain": [10, 24], "nice": false, "zero": false},
              "axis": {"orient": "left", "values": [10, 12, 14, 16, 18, 20, 22, 24], "tickSize": -6, "labelPadding": 13, "labelFlush": false, "labelOverlap": false, "title": "degrees F", "titlePadding": 12}},
        "color": {"field": "series", "type": "nominal", "scale": {"domain": ["G5903 Analysis", "G5903"], "range": ["#ff0000", "#0080ff"]}, "legend": {"title": null}}
      }
    },
    {
      "data": {"name": "dew"},
      "transform": [{"filter": "datum.series === 'G5903'"}],
      "mark": {"type": "line", "interpolate": "step-after", "strokeWidth": 1},
      "encoding": {
        "x": {"field": "hour", "type": "quantitative",
              "axis": {"orient": "bottom", "values": [0,1,2,3,4,5,6,7,8,9,10,11,12,13,14,15,16,17,18,19,20,21,22,23,24,25,26,27,28,29,30,31,32,33,34,35,36], "tickSize": -3, "labels": false, "title": null}},
        "y": {"field": "dewpoint", "type": "quantitative",
              "axis": {"orient": "right", "values": [10, 12, 14, 16, 18, 20, 22, 24], "tickSize": -6, "labels": false, "title": null}},
        "color": {"field": "series", "type": "nominal", "legend": {"title": null}}
      }
    },
    {
      "data": {"name": "sun"},
      "mark": {"type": "rule", "color": "black", "strokeWidth": 1},
      "encoding": {
        "x": {"field": "hour", "type": "quantitative",
              "axis": {"orient": "top", "values": [0, 4, 8, 12, 16, 20, 24, 28, 32, 36], "tickSize": -6, "labels": false, "title": null}},
        "y": {"datum": 21.95, "axis": null},
        "y2": {"datum": 10}
      }
    },
    {
      "data": {"name": "sun"},
      "mark": {"type": "text", "angle": 270, "align": "left", "baseline": "middle", "font": "DejaVu Sans Mono", "fontSize": 10, "color": "black"},
      "encoding": {
        "x": {"field": "hour", "type": "quantitative",
              "axis": {"orient": "top", "values": [0,1,2,3,4,5,6,7,8,9,10,11,12,13,14,15,16,17,18,19,20,21,22,23,24,25,26,27,28,29,30,31,32,33,34,35,36], "tickSize": -3, "labels": false, "title": null}},
        "y": {"datum": 22.15, "axis": null},
        "text": {"field": "event"}
      }
    }
  ]
}
